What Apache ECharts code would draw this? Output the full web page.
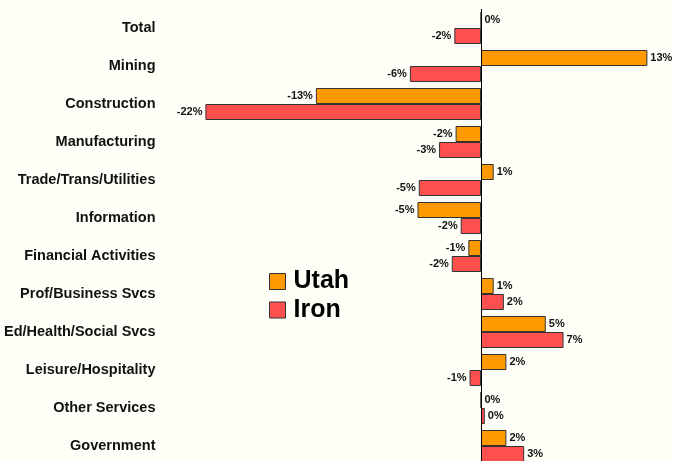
<!DOCTYPE html>
<html>
<head>
<meta charset="utf-8">
<title>Utah vs Iron</title>
<style type="text/css">
html, body { margin: 0; padding: 0; background: #fffff8; }
#chart { width: 673px; height: 461px; }
</style>
</head>
<body>
<div id="chart"></div>
<script src="https://cdn.jsdelivr.net/npm/echarts@6/dist/echarts.min.js"></script>
<script>
  // categories, top to bottom
  var categories = ['Total', 'Mining', 'Construction', 'Manufacturing', 'Trade/Trans/Utilities',
    'Information', 'Financial Activities', 'Prof/Business Svcs', 'Ed/Health/Social Svcs',
    'Leisure/Hospitality', 'Other Services', 'Government'];
  // percent change
  var utahValues = [0, 13.1, -13.0, -2.0, 1.0, -5.0, -1.0, 1.0, 5.1, 2.0, 0, 2.0];
  var ironValues = [-2.1, -5.6, -21.7, -3.3, -4.9, -1.6, -2.3, 1.8, 6.5, -0.9, 0.3, 3.4];

  var font = '"Liberation Sans", Arial, sans-serif';

  function toData(arr) {
    return arr.map(function (v) {
      return { value: v, label: { position: v < 0 ? 'left' : 'right' } };
    });
  }

  var barLabel = {
    show: true,
    distance: 3,
    color: '#111',
    fontFamily: font,
    fontWeight: 'bold',
    fontSize: 11,
    formatter: function (p) { return Math.round(p.value) + '%'; }
  };

  var dom = document.getElementById('chart');
  var chart = echarts.init(dom, null, { renderer: 'canvas' });
  chart.setOption({
    backgroundColor: '#fffff8',
    animation: false,
    // grid runs a little past the bottom edge, like the original crop
    grid: { left: 163.5, top: 9, width: 508, height: 456, containLabel: false, outerBoundsMode: 'none' },
    legend: {
      orient: 'vertical',
      left: 264,
      top: 264,
      icon: 'rect',
      itemWidth: 16,
      itemHeight: 16,
      itemGap: 3.5,
      itemStyle: { borderColor: '#333', borderWidth: 1 },
      textStyle: { fontFamily: font, fontWeight: 'bold', fontSize: 25, color: '#000', lineHeight: 24, padding: [0, 0, 0, 3] },
      data: ['Utah', 'Iron']
    },
    xAxis: {
      type: 'value',
      min: -25,
      max: 15,
      show: false
    },
    yAxis: {
      type: 'category',
      data: categories,
      inverse: true,
      axisLine: { show: false, onZero: false },
      axisTick: { show: false },
      axisLabel: { margin: 8, color: '#111', fontFamily: font, fontWeight: 'bold', fontSize: 14.5 }
    },
    series: [
      {
        name: 'Utah',
        type: 'bar',
        barWidth: 16,
        barGap: '0%',
        itemStyle: { color: '#ff9900', borderColor: '#333', borderWidth: 1 },
        label: barLabel,
        data: toData(utahValues),
        markLine: {
          silent: true,
          symbol: 'none',
          label: { show: false },
          lineStyle: { color: '#000', type: 'solid', width: 1 },
          data: [{ xAxis: 0 }]
        }
      },
      {
        name: 'Iron',
        type: 'bar',
        barWidth: 16,
        barGap: '0%',
        itemStyle: { color: '#ff5050', borderColor: '#333', borderWidth: 1 },
        label: barLabel,
        data: toData(ironValues)
      }
    ]
  });
</script>
</body>
</html>
